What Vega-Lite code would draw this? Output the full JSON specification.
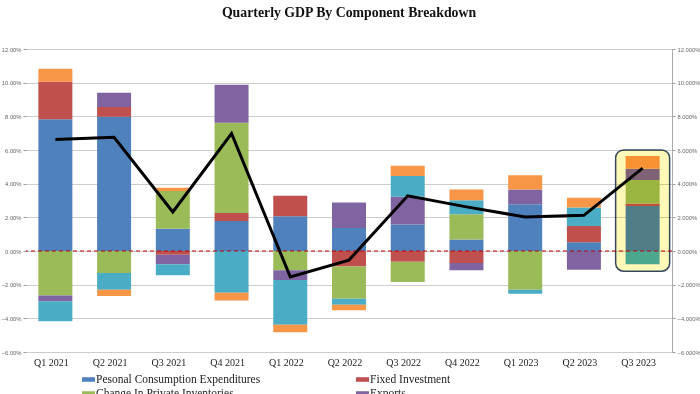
{
  "$schema": "https://vega.github.io/schema/vega-lite/v6.json",
  "width": 646,
  "height": 303,
  "autosize": {"type": "none"},
  "padding": {"left": 26, "top": 49, "right": 28, "bottom": 42},
  "background": "white",
  "title": {"text": "Quarterly GDP By Component Breakdown", "font": "Liberation Serif", "fontSize": 13.8, "fontWeight": "bold", "color": "#111111", "anchor": "middle", "offset": 26},
  "config": {"view": {"stroke": null}},
  "datasets": {
    "comp": [
      {"q": "Q1 2021", "s": "Pesonal Consumption Expenditures", "k": 1, "v": 7.82},
      {"q": "Q1 2021", "s": "Fixed Investment", "k": 2, "v": 2.24},
      {"q": "Q1 2021", "s": "Change In Private Inventories", "k": 3, "v": -2.64},
      {"q": "Q1 2021", "s": "Exports", "k": 4, "v": -0.34},
      {"q": "Q1 2021", "s": "Imports", "k": 5, "v": -1.2},
      {"q": "Q1 2021", "s": "Government Consumption", "k": 6, "v": 0.76},
      {"q": "Q2 2021", "s": "Pesonal Consumption Expenditures", "k": 1, "v": 7.98},
      {"q": "Q2 2021", "s": "Fixed Investment", "k": 2, "v": 0.58},
      {"q": "Q2 2021", "s": "Change In Private Inventories", "k": 3, "v": -1.3},
      {"q": "Q2 2021", "s": "Exports", "k": 4, "v": 0.84},
      {"q": "Q2 2021", "s": "Imports", "k": 5, "v": -1.0},
      {"q": "Q2 2021", "s": "Government Consumption", "k": 6, "v": -0.38},
      {"q": "Q3 2021", "s": "Pesonal Consumption Expenditures", "k": 1, "v": 1.32},
      {"q": "Q3 2021", "s": "Fixed Investment", "k": 2, "v": -0.22},
      {"q": "Q3 2021", "s": "Change In Private Inventories", "k": 3, "v": 2.24},
      {"q": "Q3 2021", "s": "Exports", "k": 4, "v": -0.56},
      {"q": "Q3 2021", "s": "Imports", "k": 5, "v": -0.66},
      {"q": "Q3 2021", "s": "Government Consumption", "k": 6, "v": 0.2},
      {"q": "Q4 2021", "s": "Pesonal Consumption Expenditures", "k": 1, "v": 1.78},
      {"q": "Q4 2021", "s": "Fixed Investment", "k": 2, "v": 0.48},
      {"q": "Q4 2021", "s": "Change In Private Inventories", "k": 3, "v": 5.36},
      {"q": "Q4 2021", "s": "Exports", "k": 4, "v": 2.26},
      {"q": "Q4 2021", "s": "Imports", "k": 5, "v": -2.48},
      {"q": "Q4 2021", "s": "Government Consumption", "k": 6, "v": -0.46},
      {"q": "Q1 2022", "s": "Pesonal Consumption Expenditures", "k": 1, "v": 2.06},
      {"q": "Q1 2022", "s": "Fixed Investment", "k": 2, "v": 1.22},
      {"q": "Q1 2022", "s": "Change In Private Inventories", "k": 3, "v": -1.14},
      {"q": "Q1 2022", "s": "Exports", "k": 4, "v": -0.58},
      {"q": "Q1 2022", "s": "Imports", "k": 5, "v": -2.66},
      {"q": "Q1 2022", "s": "Government Consumption", "k": 6, "v": -0.44},
      {"q": "Q2 2022", "s": "Pesonal Consumption Expenditures", "k": 1, "v": 1.36},
      {"q": "Q2 2022", "s": "Fixed Investment", "k": 2, "v": -0.92},
      {"q": "Q2 2022", "s": "Change In Private Inventories", "k": 3, "v": -1.92},
      {"q": "Q2 2022", "s": "Exports", "k": 4, "v": 1.52},
      {"q": "Q2 2022", "s": "Imports", "k": 5, "v": -0.36},
      {"q": "Q2 2022", "s": "Government Consumption", "k": 6, "v": -0.32},
      {"q": "Q3 2022", "s": "Pesonal Consumption Expenditures", "k": 1, "v": 1.58},
      {"q": "Q3 2022", "s": "Fixed Investment", "k": 2, "v": -0.64},
      {"q": "Q3 2022", "s": "Change In Private Inventories", "k": 3, "v": -1.2},
      {"q": "Q3 2022", "s": "Exports", "k": 4, "v": 1.64},
      {"q": "Q3 2022", "s": "Imports", "k": 5, "v": 1.24},
      {"q": "Q3 2022", "s": "Government Consumption", "k": 6, "v": 0.6},
      {"q": "Q4 2022", "s": "Pesonal Consumption Expenditures", "k": 1, "v": 0.68},
      {"q": "Q4 2022", "s": "Fixed Investment", "k": 2, "v": -0.72},
      {"q": "Q4 2022", "s": "Change In Private Inventories", "k": 3, "v": 1.5},
      {"q": "Q4 2022", "s": "Exports", "k": 4, "v": -0.42},
      {"q": "Q4 2022", "s": "Imports", "k": 5, "v": 0.84},
      {"q": "Q4 2022", "s": "Government Consumption", "k": 6, "v": 0.64},
      {"q": "Q1 2023", "s": "Pesonal Consumption Expenditures", "k": 1, "v": 2.78},
      {"q": "Q1 2023", "s": "Fixed Investment", "k": 2, "v": 0.0},
      {"q": "Q1 2023", "s": "Change In Private Inventories", "k": 3, "v": -2.3},
      {"q": "Q1 2023", "s": "Exports", "k": 4, "v": 0.88},
      {"q": "Q1 2023", "s": "Imports", "k": 5, "v": -0.24},
      {"q": "Q1 2023", "s": "Government Consumption", "k": 6, "v": 0.84},
      {"q": "Q2 2023", "s": "Pesonal Consumption Expenditures", "k": 1, "v": 0.52},
      {"q": "Q2 2023", "s": "Fixed Investment", "k": 2, "v": 0.96},
      {"q": "Q2 2023", "s": "Change In Private Inventories", "k": 3, "v": 0.0},
      {"q": "Q2 2023", "s": "Exports", "k": 4, "v": -1.12},
      {"q": "Q2 2023", "s": "Imports", "k": 5, "v": 1.1},
      {"q": "Q2 2023", "s": "Government Consumption", "k": 6, "v": 0.58},
      {"q": "Q3 2023", "s": "Pesonal Consumption Expenditures", "k": 1, "v": 2.68},
      {"q": "Q3 2023", "s": "Fixed Investment", "k": 2, "v": 0.14},
      {"q": "Q3 2023", "s": "Change In Private Inventories", "k": 3, "v": 1.4},
      {"q": "Q3 2023", "s": "Exports", "k": 4, "v": 0.66},
      {"q": "Q3 2023", "s": "Imports", "k": 5, "v": -0.78},
      {"q": "Q3 2023", "s": "Government Consumption", "k": 6, "v": 0.76}
    ],
    "gdp": [
      {"q": "Q1 2021", "g": 6.62},
      {"q": "Q2 2021", "g": 6.76},
      {"q": "Q3 2021", "g": 2.32},
      {"q": "Q4 2021", "g": 6.98},
      {"q": "Q1 2022", "g": -1.54},
      {"q": "Q2 2022", "g": -0.54},
      {"q": "Q3 2022", "g": 3.28},
      {"q": "Q4 2022", "g": 2.62},
      {"q": "Q1 2023", "g": 2.02},
      {"q": "Q2 2023", "g": 2.12},
      {"q": "Q3 2023", "g": 4.92}
    ],
    "box": [
      {"q": "Q3 2023", "top": 6.0, "bottom": -1.2}
    ]
  },
  "layer": [
    {
      "data": {"name": "comp"},
      "mark": {"type": "bar", "size": 34},
      "encoding": {
        "x": {
          "field": "q", "type": "nominal",
          "scale": {"domain": ["Q1 2021", "Q2 2021", "Q3 2021", "Q4 2021", "Q1 2022", "Q2 2022", "Q3 2022", "Q4 2022", "Q1 2023", "Q2 2023", "Q3 2023"], "paddingInner": 0, "paddingOuter": 0},
          "axis": {"title": null, "domain": false, "ticks": false, "grid": false, "labelAngle": 0, "labelFont": "Liberation Serif", "labelFontSize": 10, "labelColor": "#222222", "labelPadding": 5, "labelOffset": -4}
        },
        "y": {
          "field": "v", "type": "quantitative", "stack": "zero",
          "scale": {"domain": [-6, 12], "nice": false, "zero": false},
          "axis": {"title": null, "values": [-6, -4, -2, 0, 2, 4, 6, 8, 10, 12], "labelExpr": "format(datum.value, '.2f') + '%'", "labelFont": "Liberation Sans", "labelFontSize": 5.8, "labelColor": "#666666", "tickColor": "#999999", "tickSize": 3, "labelPadding": 2, "domain": false, "grid": true, "gridColor": "#cccccc"}
        },
        "color": {
          "field": "s", "type": "nominal",
          "scale": {
            "domain": ["Pesonal Consumption Expenditures", "Fixed Investment", "Change In Private Inventories", "Exports", "Imports", "Government Consumption"],
            "range": ["#4F81BD", "#C0504D", "#9BBB59", "#8064A2", "#4BACC6", "#F79646"]
          },
          "legend": {"title": null, "orient": "none", "direction": "horizontal", "legendX": 56, "legendY": 324, "columns": 2, "columnPadding": 95, "rowPadding": 2, "symbolType": "M-1,-0.35H1V0.35H-1Z", "symbolSize": 169, "symbolStrokeWidth": 0, "symbolOpacity": 1, "labelFont": "Liberation Serif", "labelFontSize": 11.5, "labelColor": "#222222", "labelOffset": 1, "labelLimit": 300}
        },
        "order": {"field": "k", "type": "quantitative"}
      }
    },
    {
      "data": {"name": "box"},
      "mark": {"type": "bar", "size": 54, "cornerRadius": 8, "fill": "#FFF9B8", "blend": "multiply", "stroke": "#34495E", "strokeWidth": 1.5},
      "encoding": {
        "x": {"field": "q", "type": "nominal"},
        "y": {"field": "top", "type": "quantitative", "axis": null},
        "y2": {"field": "bottom"}
      }
    },
    {
      "data": {"values": [{}]},
      "mark": {"type": "rule", "color": "#C00000", "strokeDash": [4, 3], "strokeWidth": 1},
      "encoding": {"y": {"datum": 0, "type": "quantitative", "axis": null}}
    },
    {
      "data": {"name": "gdp"},
      "mark": {"type": "line", "color": "#000000", "strokeWidth": 3},
      "encoding": {
        "x": {"field": "q", "type": "nominal"},
        "y": {
          "field": "g", "type": "quantitative",
          "axis": {"orient": "right", "title": null, "values": [-6, -4, -2, 0, 2, 4, 6, 8, 10, 12], "labelExpr": "format(datum.value, '.3f') + '%'", "labelFont": "Liberation Sans", "labelFontSize": 5.8, "labelColor": "#666666", "tickColor": "#999999", "tickSize": 3, "labelPadding": 2, "domain": true, "domainColor": "#aaaaaa", "grid": false}
        }
      }
    }
  ],
  "resolve": {"axis": {"y": "independent"}}
}
